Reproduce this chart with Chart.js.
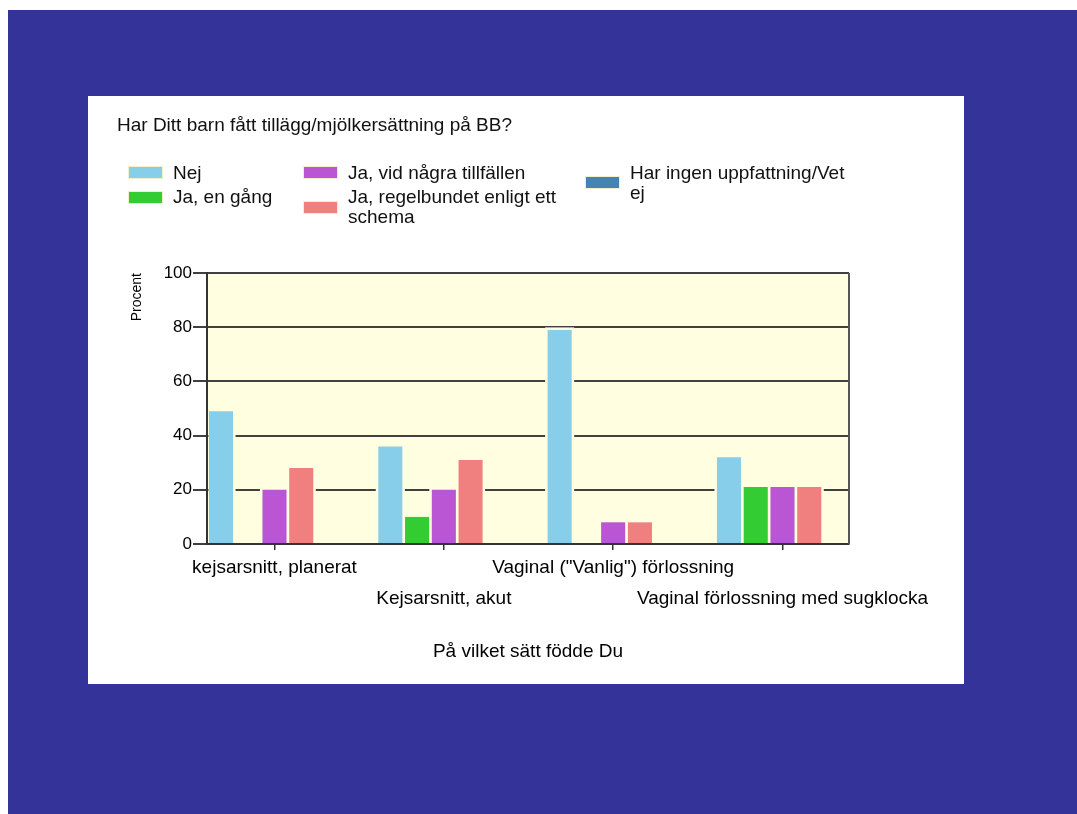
<!DOCTYPE html>
<html>
<head>
<meta charset="utf-8">
<script src="https://cdn.jsdelivr.net/npm/chart.js@4.4.1/dist/chart.umd.min.js"></script>
<style>
  html, body { margin: 0; padding: 0; background: #fff; }
  body { width: 1077px; height: 814px; position: relative; overflow: hidden; font-family: "Liberation Sans", Arial, sans-serif; }
  #frame { position: absolute; left: 8px; top: 10px; width: 1069px; height: 804px; background: #333399; }
  #panel { position: absolute; left: 88px; top: 96px; width: 876px; height: 588px; background: #fff; }
  #panel canvas { position: absolute; left: 0; top: 0; }
  #title { position: absolute; left: 29px; top: 18px; font-size: 19px; line-height: 22px; color: #111; white-space: nowrap; }
  .legend-col { position: absolute; top: 66.7px; display: flex; flex-direction: column; gap: 4.7px; }
  .legend-item { display: flex; align-items: center; }
  .legend-item .box { width: 35px; height: 13px; box-sizing: border-box; border: 1px solid #f3efcc; flex: none; margin-right: 10px; }
  .legend-item .txt { font-size: 19px; line-height: 20px; color: #111; max-width: 224px; }
</style>
</head>
<body>
<div id="frame"></div>
<div id="panel">
  <canvas id="chart" width="876" height="588"></canvas>
  <div id="title">Har Ditt barn fått tillägg/mjölkersättning på BB?</div>
  <div id="legend"></div>
</div>
<script>
const categories = ['kejsarsnitt, planerat', 'Kejsarsnitt, akut', 'Vaginal ("Vanlig") förlossning', 'Vaginal förlossning med sugklocka'];

const seriesLabels = ['Nej', 'Ja, en gång', 'Ja, vid några tillfällen', 'Ja, regelbundet enligt ett schema', 'Har ingen uppfattning/Vet ej'];
const nej = [49, 36, 79, 32];
const jaEnGang = [0, 10, 0, 21];
const jaVidNagra = [20, 20, 8, 21];
const jaRegelbundet = [28, 31, 8, 21];
const harIngen = [0, 0, 0, 0];

const yTicks = [0, 20, 40, 60, 80, 100];

const colors = ['#87CEEB', '#33CC33', '#BA55D3', '#F08080', '#4682B4'];
const plotBg = '#FFFEE0';
const FONT = '"Liberation Sans", Arial, sans-serif';

Chart.defaults.font.family = FONT;
Chart.defaults.color = '#000';

// cream background of the plot, gaps in the gridlines round the bars, right frame line
const plotFrame = {
  id: 'plotFrame',
  beforeDraw(chart) {
    const {ctx, chartArea: a} = chart;
    ctx.save();
    ctx.fillStyle = plotBg;
    ctx.fillRect(a.left, a.top, a.width, a.height);
    ctx.restore();
  },
  beforeDatasetsDraw(chart) {
    const {ctx, chartArea: a} = chart;
    ctx.save();
    ctx.beginPath();
    ctx.rect(a.left + 1.5, a.top + 1.5, a.width - 3, a.height - 3);
    ctx.clip();
    ctx.fillStyle = plotBg;
    chart.data.datasets.forEach((ds, i) => {
      chart.getDatasetMeta(i).data.forEach(bar => {
        const p = bar.getProps(['x', 'y', 'base', 'width']);
        if (Math.abs(p.base - p.y) < 0.5) return;
        ctx.fillRect(p.x - p.width / 2 - 2.5, p.y - 2.5, p.width + 5, p.base - p.y + 2.5);
      });
    });
    ctx.restore();
    ctx.save();
    ctx.strokeStyle = '#555';
    ctx.lineWidth = 2;
    ctx.beginPath();
    ctx.moveTo(a.right, a.top);
    ctx.lineTo(a.right, a.bottom);
    ctx.stroke();
    ctx.restore();
  }
};

const chart = new Chart(document.getElementById('chart').getContext('2d'), {
  type: 'bar',
  data: {
    labels: categories,
    datasets: [nej, jaEnGang, jaVidNagra, jaRegelbundet, harIngen].map((vals, i) => ({
      label: seriesLabels[i],
      data: vals,
      backgroundColor: colors[i],
      borderWidth: 0,
      categoryPercentage: 0.79,
      barPercentage: 0.9
    }))
  },
  options: {
    responsive: false,
    animation: false,
    layout: { padding: { left: 38, right: 115, top: 177, bottom: 0 } },
    plugins: {
      legend: { display: false },
      tooltip: { enabled: false }
    },
    scales: {
      x: {
        grid: { display: true, drawOnChartArea: false, offset: false, tickLength: 6, color: '#333', lineWidth: 1.5 },
        border: { display: true, color: '#333', width: 2 },
        ticks: {
          autoSkip: false,
          maxRotation: 0,
          minRotation: 0,
          padding: 2,
          color: '#000',
          font: { size: 19, lineHeight: 1.63 },
          callback: (v, i) => i % 2 ? ['', categories[i]] : categories[i]
        },
        title: {
          display: true,
          text: 'På vilket sätt födde Du',
          color: '#000',
          font: { size: 19, lineHeight: 1.2 },
          padding: { top: 0, bottom: 20.6 }
        },
        // groups sit flush with the plot edges, as in the original
        afterBuildTicks: s => { s._startValue = -0.3986; s._valueRange = 3.7913; },
        afterFit: s => { s.height = 140; }
      },
      y: {
        min: 0,
        max: 100,
        afterBuildTicks: s => { s.ticks = yTicks.map(v => ({ value: v })); },
        ticks: { padding: 1, color: '#000', font: { size: 17 } },
        grid: { color: '#404040', lineWidth: 2, tickLength: 14 },
        border: { color: '#333', width: 2 },
        title: {
          display: true,
          text: 'Procent',
          align: 'end',
          color: '#000',
          font: { size: 14 },
          padding: { top: 3, bottom: 0 }
        },
        afterFit: s => { s.width = 81; }
      }
    }
  },
  plugins: [plotFrame]
});

// legend laid out in three columns like the original
const legendColumns = [[0, 1], [2, 3], [4]];
const legendLeft = [40, 215, 497];
const legendEl = document.getElementById('legend');
legendColumns.forEach((col, c) => {
  const colEl = document.createElement('div');
  colEl.className = 'legend-col';
  colEl.style.left = legendLeft[c] + 'px';
  col.forEach(i => {
    const ds = chart.data.datasets[i];
    const item = document.createElement('div');
    item.className = 'legend-item';
    const box = document.createElement('span');
    box.className = 'box';
    box.style.background = ds.backgroundColor;
    const txt = document.createElement('span');
    txt.className = 'txt';
    txt.textContent = ds.label;
    item.appendChild(box);
    item.appendChild(txt);
    colEl.appendChild(item);
  });
  legendEl.appendChild(colEl);
});
</script>
</body>
</html>
